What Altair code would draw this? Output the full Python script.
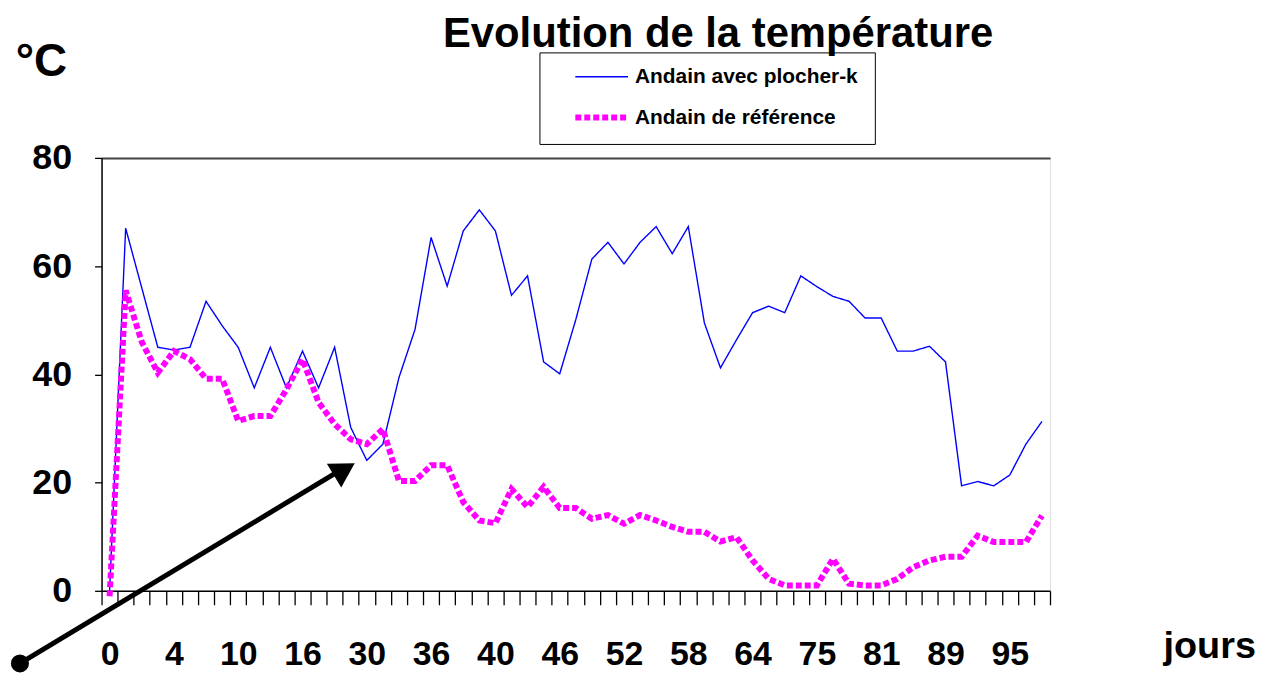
import altair as alt
import pandas as pd

FONT = "Liberation Sans"

SERIES = ["Andain avec plocher-k", "Andain de référence"]
COLORS = ["#0000FF", "#FF00FF"]

# labels shown every 4th measurement (days)
DAY_LABELS = ["0", "4", "10", "16", "30", "36", "40", "46", "52", "58",
              "64", "75", "81", "89", "95"]

PLOCHER = [0, 67, 56, 45, 44.5, 45, 53.5, 49, 45, 37.5, 45, 37.5, 44.3, 37.5, 45,
           30.2, 24.1, 27.1, 39.4, 48.3, 65.3, 56.3, 66.5, 70.4, 66.5, 54.6, 58.2,
           42.3, 40.1, 50.1, 61.3, 64.4, 60.4, 64.4, 67.3, 62.3, 67.3, 49.5, 41.2,
           46.4, 51.4, 52.6, 51.4, 58.2, 56.2, 54.4, 53.5, 50.4, 50.4, 44.3, 44.3,
           45.2, 42.3, 19.4, 20.2, 19.4, 21.4, 27.1, 31.3]

REFERENCE = [-1, 55.5, 46, 40.3, 44.3, 42.8, 39.2, 39.2, 31.4, 32.3, 32.3, 37.2,
             42.8, 34.8, 30.8, 28, 27.1, 29.9, 20.3, 20.3, 23.2, 23.2, 16.4, 13,
             12.5, 18.8, 15.5, 19.2, 15.3, 15.3, 13.3, 14, 12.4, 14, 13, 11.8, 10.9,
             10.9, 9.1, 9.9, 5.6, 2.2, 1, 1, 1, 5.9, 1.3, 1, 1, 2.2, 4.4, 5.6, 6.3,
             6.3, 10.2, 9, 9, 9, 13.9]

rows = []
for name, vals in zip(SERIES, [PLOCHER, REFERENCE]):
    for i, v in enumerate(vals):
        rows.append({"i": i, "serie": name, "t": v})
df = pd.DataFrame(rows)

label_js = "[" + ",".join("'" + d + "'" for d in DAY_LABELS) + "]"
label_expr = "datum.value % 4 === 0 ? " + label_js + "[datum.value / 4] : ''"

legend_common = dict(
    title=None, orient="none", legendX=440, legendY=-106,
    padding=16, strokeColor="black", fillColor="white",
    labelFont=FONT, labelFontSize=21, labelFontWeight="bold", labelColor="black",
    labelLimit=500, labelOffset=4, symbolType="stroke", symbolSize=2800,
    symbolOffset=17, clipHeight=17, rowPadding=19,
)

x_enc = alt.X(
    "i:O", bandPosition=0.5,
    scale=alt.Scale(type="band", paddingInner=0, paddingOuter=0),
    axis=alt.Axis(
        tickBand="extent", labelExpr=label_expr, labelAngle=0, labelOverlap=False,
        tickSize=14, tickColor="black", tickWidth=1.3,
        domainColor="black", domainWidth=1.5,
        labelFont=FONT, labelFontSize=34, labelFontWeight="bold", labelColor="black",
        labelPadding=33,
        title="jours", titleX=1113, titleY=56, titleAngle=0,
        titleAlign="center", titleBaseline="middle",
        titleFont=FONT, titleFontSize=38, titleFontWeight="bold", titleColor="black",
    ),
)

y_enc = alt.Y(
    "t:Q",
    scale=alt.Scale(domain=[0, 80], nice=False, zero=False),
    axis=alt.Axis(
        values=[0, 20, 40, 60, 80], tickSize=7, tickColor="black", tickWidth=1.3,
        domainColor="black", domainWidth=1.5,
        labelFont=FONT, labelFontSize=36, labelFontWeight="bold", labelColor="black",
        labelPadding=23,
        grid=True, gridColor="#444", gridWidth=2,
        gridOpacity={"condition": {"test": "datum.value === 80", "value": 1}, "value": 0},
        title="°C", titleX=-61, titleY=-97, titleAngle=0,
        titleAlign="center", titleBaseline="middle",
        titleFont=FONT, titleFontSize=46, titleFontWeight="bold", titleColor="black",
    ),
)

lines = alt.Chart(df).mark_line(strokeCap="butt", clip=False).encode(
    x=x_enc,
    y=y_enc,
    color=alt.Color("serie:N", scale=alt.Scale(domain=SERIES, range=COLORS),
                    legend=alt.Legend(**legend_common)),
    strokeDash=alt.StrokeDash("serie:N",
                              scale=alt.Scale(domain=SERIES, range=[[1, 0], [6, 3]]),
                              legend=alt.Legend(**legend_common)),
    strokeWidth=alt.StrokeWidth("serie:N",
                                scale=alt.Scale(domain=SERIES, range=[1.4, 6]),
                                legend=alt.Legend(**legend_common)),
    order="i:Q",
)

# annotation arrow (pixel positions relative to the plot area)
ARROW_START = (-82, 508)
ARROW_END = (238, 315)
ARROW_HEAD = (244, 313)
one = pd.DataFrame({"a": [0]})

arrow_line = alt.Chart(one).mark_rule(color="black", strokeWidth=5).encode(
    x=alt.value(ARROW_START[0]), y=alt.value(ARROW_START[1]),
    x2=alt.value(ARROW_END[0]), y2=alt.value(ARROW_END[1]),
)
arrow_head = alt.Chart(one).mark_point(
    shape="triangle-up", filled=True, size=784, angle=59, color="black", opacity=1
).encode(x=alt.value(ARROW_HEAD[0]), y=alt.value(ARROW_HEAD[1]))
arrow_dot = alt.Chart(one).mark_point(
    shape="circle", filled=True, size=330, color="black", opacity=1
).encode(x=alt.value(ARROW_START[0]), y=alt.value(ARROW_START[1]))

chart = alt.layer(lines, arrow_line, arrow_head, arrow_dot).properties(
    width=953, height=435,
    padding={"left": 94, "top": 149, "right": 210, "bottom": 86},
    autosize=alt.AutoSizeParams(type="none"),
    title=alt.TitleParams(
        "Evolution de la température", font=FONT, fontSize=42, fontWeight="bold",
        color="black", anchor="middle", frame="group", dx=143, offset=0, dy=18,
    ),
).configure_view(stroke="#999", strokeWidth=1.5).configure(background="white")

chart.save("out.html", embed_options={"renderer": "svg", "actions": False})
